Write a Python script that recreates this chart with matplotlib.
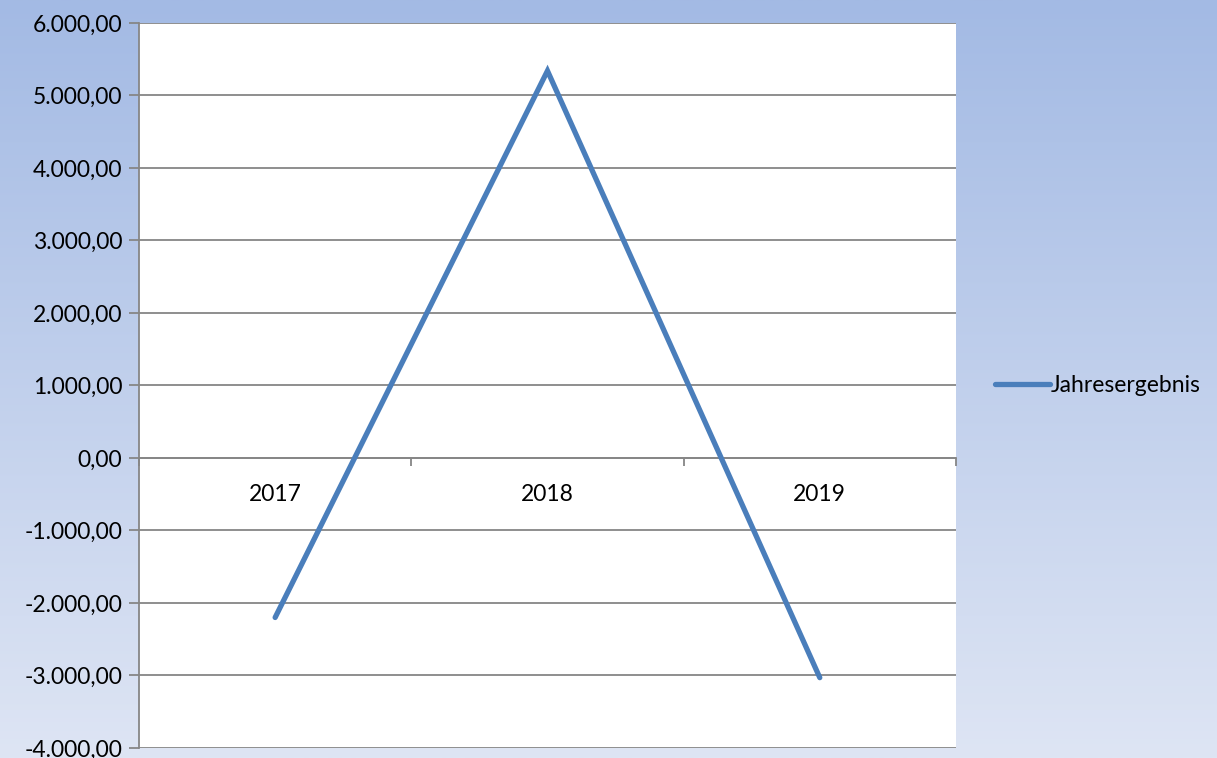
import numpy as np
import matplotlib.pyplot as plt
from matplotlib.ticker import FuncFormatter, MultipleLocator, FixedLocator

years = ["2017", "2018", "2019"]
jahresergebnis = [-2200, 5340, -3030]
series_name = "Jahresergebnis"

plt.rcParams["font.family"] = ["Lato", "DejaVu Sans"]

fig = plt.figure(figsize=(12.17, 7.58), dpi=100)

# gradient background like the Excel chart area
bg = fig.add_axes([0, 0, 1, 1], zorder=-10)
top = np.array([163, 186, 228]) / 255
bottom = np.array([222, 229, 244]) / 255
t = np.linspace(0, 1, 256)[:, None]
grad = top * (1 - t) + bottom * t
bg.imshow(grad[:, None, :], aspect="auto", extent=[0, 1, 0, 1])
bg.axis("off")

ax = fig.add_axes([0.1142, 0.0132, 0.6713, 0.9565])
ax.set_facecolor("white")

x = np.arange(len(years))
line, = ax.plot(x, jahresergebnis, color="#4A7EBB", lw=3.8,
                solid_capstyle="round", solid_joinstyle="miter",
                label=series_name, zorder=3)

ax.set_xlim(-0.5, len(years) - 0.5)
ax.set_ylim(-4000, 6000)
ax.yaxis.set_major_locator(MultipleLocator(1000))

def de_fmt(v, pos):
    s = f"{abs(v):,.2f}".replace(",", "X").replace(".", ",").replace("X", ".")
    return ("-" if v < 0 else "") + s

ax.yaxis.set_major_formatter(FuncFormatter(de_fmt))
ax.grid(axis="y", color="#868686", lw=1.3)
ax.set_axisbelow(True)

for side in ["top", "right"]:
    ax.spines[side].set_visible(False)
ax.spines["left"].set_color("#868686")
ax.spines["left"].set_linewidth(1.3)
ax.spines["bottom"].set_position(("data", 0))
ax.spines["bottom"].set_color("#868686")
ax.spines["bottom"].set_linewidth(1.3)

fs = 16.5
ax.set_xticks(x)
ax.set_xticklabels(years)
ax.xaxis.set_minor_locator(FixedLocator(np.arange(len(years) + 1) - 0.5))
ax.tick_params(axis="x", which="major", length=0, pad=19, labelsize=fs)
ax.tick_params(axis="x", which="minor", length=6, color="#868686", width=1.3, direction="out")
ax.tick_params(axis="y", length=7, color="#868686", width=1.3, labelsize=fs, pad=5)

fig.legend(handles=[line], labels=[series_name], loc="center left",
           bbox_to_anchor=(0.8176, 0.492), frameon=False, fontsize=fs,
           borderpad=0, borderaxespad=0,
           handlelength=2.4, handletextpad=0.05)

fig.savefig("out.png", dpi=100)
